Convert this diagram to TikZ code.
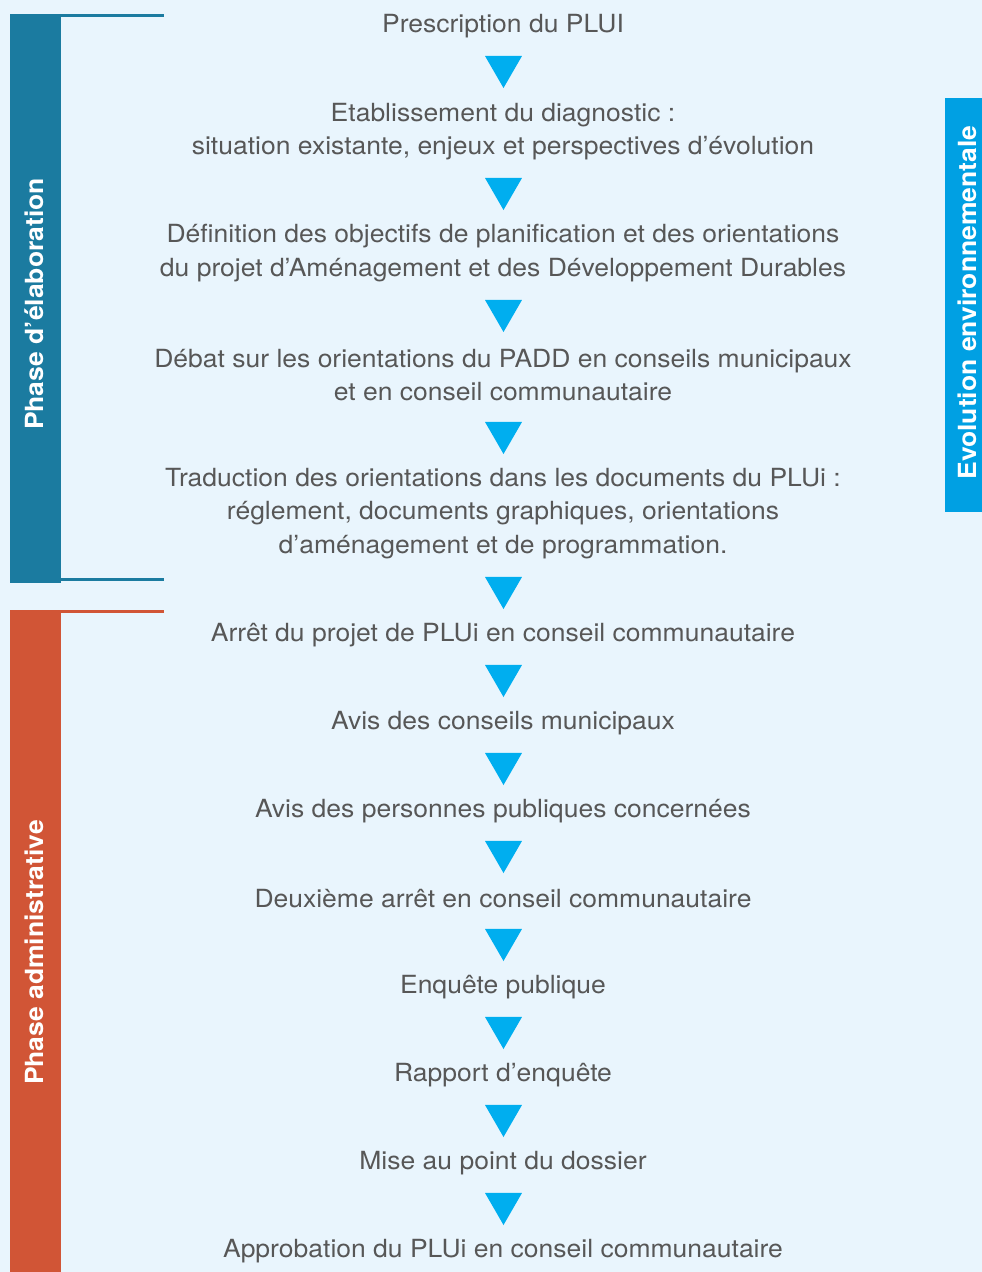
\documentclass[tikz,border=0pt]{standalone}
\usepackage{fontspec}
\setmainfont{TeX Gyre Heros}[FakeStretch=1.06]
\usetikzlibrary{shapes.geometric}
\definecolor{bgc}{HTML}{E9F5FD}
\definecolor{barblue}{HTML}{1B7BA0}
\definecolor{barorange}{HTML}{D15536}
\definecolor{envblue}{HTML}{00A0E3}
\definecolor{tri}{HTML}{00AEEF}
\definecolor{txt}{HTML}{575757}
\tikzset{
  x=1pt,y=1pt,
  stepnode/.style={align=center,text=txt,font=\fontsize{25}{33.5}\selectfont,inner sep=0pt},
  arrownode/.style={regular polygon,regular polygon sides=3,shape border rotate=180,fill=tri,minimum size=42.7pt,inner sep=0pt,outer sep=0pt,anchor=corner 1},
  barlabel/.style={rotate=90,text=white,font=\bfseries\fontsize{25}{28}\selectfont,inner sep=0pt},
}
\begin{document}
\begin{tikzpicture}
\useasboundingbox (0,0) rectangle (982,-1272);
\fill[bgc] (0,0) rectangle (982,-1272);
% left blue bar
\fill[barblue] (10,-14) rectangle (61,-583);
\fill[barblue] (10,-14) rectangle (164,-17);
\fill[barblue] (61,-578) rectangle (164,-581);
\node[barlabel] (ph1) at (34,-304) {Phase d’élaboration};
% left orange bar
\fill[barorange] (10,-611) rectangle (61,-1272);
\fill[barorange] (10,-610) rectangle (164,-613);
\node[barlabel] (ph2) at (34,-952.5) {Phase administrative};
% right bar
\fill[envblue] (945,-98) rectangle (982,-512);
\node[barlabel] (env) at (967,-302.5) {Evolution environnementale};
% steps
\node[stepnode] (s1) at (503,-26) {Prescription du PLUI};
\node[stepnode] (s2) at (503,-131.5) {Etablissement du diagnostic :\\situation existante, enjeux et perspectives d’évolution};
\node[stepnode] (s3) at (503,-253) {Définition des objectifs de planification et des orientations\\du projet d’Aménagement et des Développement Durables};
\node[stepnode] (s4) at (503,-375) {Débat sur les orientations du PADD en conseils municipaux\\et en conseil communautaire};
\node[stepnode] (s5) at (503,-513.5) {Traduction des orientations dans les documents du PLUi :\\réglement, documents graphiques, orientations\\d’aménagement et de programmation.};
\node[stepnode] (s6) at (503,-635) {Arrêt du projet de PLUi en conseil communautaire};
\node[stepnode] (s7) at (503,-723) {Avis des conseils municipaux};
\node[stepnode] (s8) at (503,-811) {Avis des personnes publiques concernées};
\node[stepnode] (s9) at (503,-899) {Deuxième arrêt en conseil communautaire};
\node[stepnode] (s10) at (503,-987) {Enquête publique};
\node[stepnode] (s11) at (503,-1075) {Rapport d’enquête};
\node[stepnode] (s12) at (503,-1163) {Mise au point du dossier};
\node[stepnode] (s13) at (503,-1251) {Approbation du PLUi en conseil communautaire};
% arrows (bottom vertex y)
\foreach \i/\yb in {1/88,2/210,3/332,4/454,5/609,6/697,7/785,8/873,9/961,10/1049,11/1137,12/1225}{
  \node[arrownode] (a\i) at (503.5,-\yb) {};
}
\end{tikzpicture}
\end{document}
